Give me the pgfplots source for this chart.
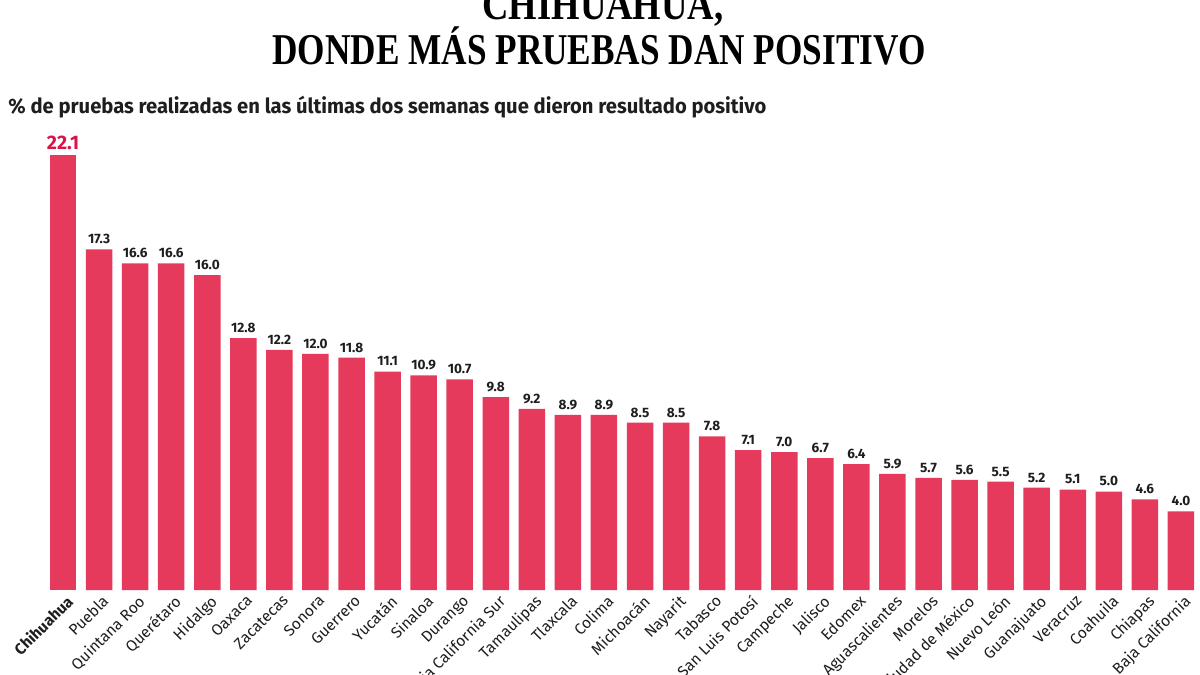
\documentclass[border=0pt]{standalone}
\usepackage{pgfplots}
\pgfplotsset{compat=1.18}
\usepackage{fontspec}
\setmainfont{Fira Sans}
\newfontfamily\titlefont{Liberation Serif}
\definecolor{barred}{RGB}{229,58,92}
\definecolor{hired}{RGB}{214,22,72}
\definecolor{lbl}{RGB}{30,30,30}
\begin{document}
\begin{tikzpicture}[x=1pt,y=1pt]
\path[use as bounding box] (0,0) rectangle (600,337.5);
\begin{scope}
\clip (0,0) rectangle (600,337.5);
\node[anchor=base,inner sep=0pt] at (301.5,327.5) {\resizebox{120.5pt}{\height}{\fontsize{22}{22}\selectfont\titlefont\bfseries CHIHUAHUA,}};
\node[anchor=base,inner sep=0pt] at (299.5,305) {\resizebox{326.5pt}{\height}{\fontsize{22}{22}\selectfont\titlefont\bfseries DONDE MÁS PRUEBAS DAN POSITIVO}};
\node[anchor=base west,inner sep=0pt,text=lbl] at (4,280.5) {\resizebox{379pt}{\height}{\fontsize{10.4}{11}\selectfont\bfseries \% de pruebas realizadas en las últimas dos semanas que dieron resultado positivo}};
\end{scope}
\begin{axis}[
  at={(22.5pt,42.5pt)}, anchor=south west,
  scale only axis, width=577pt, height=236.2pt,
  xmin=-0.5, xmax=31.5, ymin=0, ymax=24,
  ybar, bar width=13.25pt,
  axis x line*=bottom, axis y line=none,
  x axis line style={draw=none},
  major tick length=0pt, ytick=\empty,
  xtick={0,...,31},
  xticklabels={\textbf{Chihuahua},Puebla,Quintana Roo,Querétaro,Hidalgo,Oaxaca,Zacatecas,Sonora,Guerrero,Yucatán,Sinaloa,Durango,Baja California Sur,Tamaulipas,Tlaxcala,Colima,Michoacán,Nayarit,Tabasco,San Luis Potosí,Campeche,Jalisco,Edomex,Aguascalientes,Morelos,Ciudad de México,Nuevo León,Guanajuato,Veracruz,Coahuila,Chiapas,Baja California},
  xticklabel style={rotate=45, anchor=north east, inner sep=1pt, xshift=0.5pt, yshift=-1pt, font=\fontsize{7.8}{8}\selectfont, text=lbl},
  nodes near coords={\pgfmathprintnumber[fixed,fixed zerofill,precision=1,assume math mode=true]{\pgfplotspointmeta}},
  every node near coord/.append style={anchor=south, inner sep=0pt, yshift=2.5pt, font=\bfseries\fontsize{6.8}{7}\selectfont, text=lbl},
  clip=false,
]
\addplot[bar shift=0pt, fill=barred, draw=none,
  every node near coord/.append style={font=\bfseries\fontsize{9.8}{10}\selectfont, text=hired}]
  coordinates {(0,22.1)};
\addplot[bar shift=0pt, fill=barred, draw=none] coordinates {
(1,17.3) (2,16.6) (3,16.6) (4,16.0) (5,12.8) (6,12.2) (7,12.0) (8,11.8) (9,11.1) (10,10.9) (11,10.7)
(12,9.8) (13,9.2) (14,8.9) (15,8.9) (16,8.5) (17,8.5) (18,7.8) (19,7.1) (20,7.0) (21,6.7) (22,6.4)
(23,5.9) (24,5.7) (25,5.6) (26,5.5) (27,5.2) (28,5.1) (29,5.0) (30,4.6) (31,4.0)};
\end{axis}
\end{tikzpicture}
\end{document}
